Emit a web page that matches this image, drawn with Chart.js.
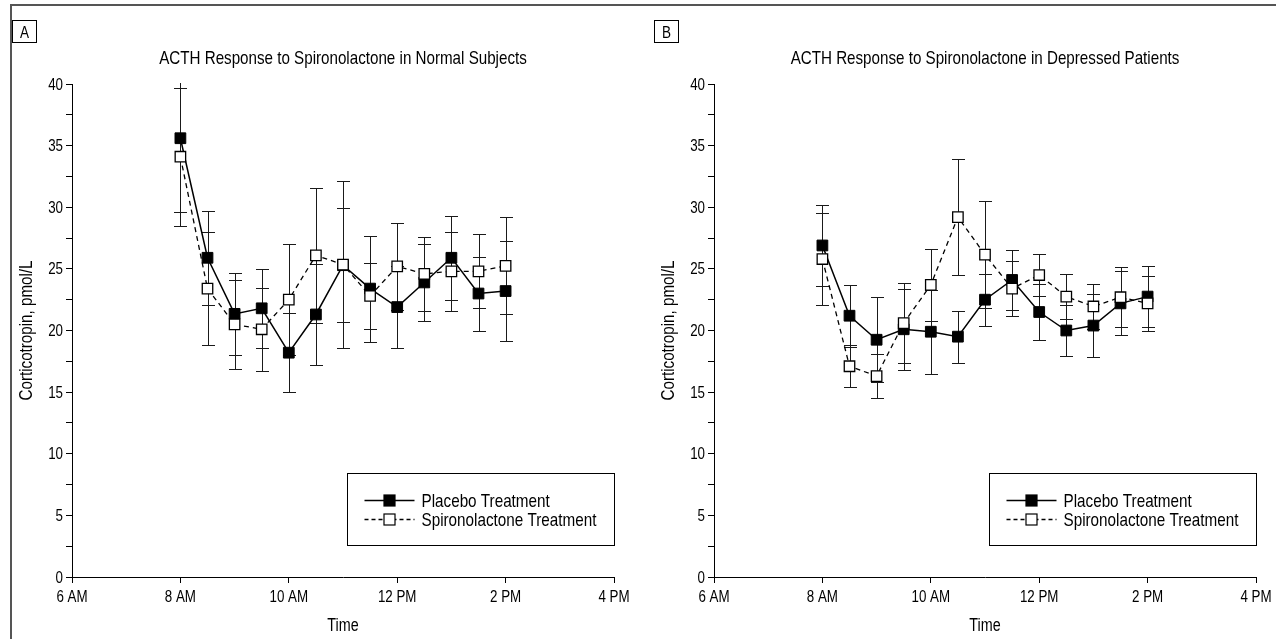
<!DOCTYPE html>
<html><head><meta charset="utf-8">
<script src="https://cdn.jsdelivr.net/npm/chart.js@4.4.0/dist/chart.umd.min.js"></script>
<style>
html,body{margin:0;padding:0;background:#fff;overflow:hidden}
#wrap{position:relative;width:1276px;height:639px;background:#fff}
canvas{position:absolute;top:0}
#cA{left:0}
#cB{left:638px}
</style></head><body>
<div id="wrap"><canvas id="cA" width="638" height="639"></canvas><canvas id="cB" width="638" height="639"></canvas></div>
<script>
// ---- data ----
const timeHours = [8, 8.5, 9, 9.5, 10, 10.5, 11, 11.5, 12, 12.5, 13, 13.5, 14];
const xTickValues = [6, 8, 10, 12, 14, 16];
const xTickLabels = ['6 AM', '8 AM', '10 AM', '12 PM', '2 PM', '4 PM'];
const seriesLabels = ['Placebo Treatment', 'Spironolactone Treatment'];

const normalPlacebo    = [35.6, 25.9, 21.35, 21.8, 18.2, 21.3, 25.3, 23.4, 21.9, 23.9, 25.9, 23.0, 23.2];
const normalPlaceboErr = [6.0, 3.8, 3.3, 3.2, 3.2, 4.1, 4.6, 4.3, 3.3, 3.1, 3.4, 3.0, 4.05];
const normalSpiro      = [34.1, 23.4, 20.5, 20.1, 22.5, 26.1, 25.35, 22.8, 25.2, 24.6, 24.8, 24.8, 25.25];
const normalSpiroErr   = [5.6, 4.6, 3.6, 3.35, 4.5, 5.5, 6.8, 2.7, 3.5, 3.0, 3.2, 3.0, 3.95];

const depPlacebo    = [26.9, 21.2, 19.25, 20.1, 19.9, 19.5, 22.5, 24.1, 21.5, 20.0, 20.4, 22.2, 22.75];
const depPlaceboErr = [3.3, 2.5, 3.45, 3.3, 3.4, 2.1, 2.1, 2.45, 2.25, 2.1, 2.55, 2.6, 2.5];
const depSpiro      = [25.8, 17.1, 16.3, 20.6, 23.7, 29.2, 26.15, 23.4, 24.5, 22.75, 21.95, 22.7, 22.2];
const depSpiroErr   = [3.75, 1.7, 1.8, 3.25, 2.9, 4.7, 4.35, 2.2, 1.7, 1.85, 1.85, 2.45, 2.25];

const titleA = 'ACTH Response to Spironolactone in Normal Subjects';
const titleB = 'ACTH Response to Spironolactone in Depressed Patients';
const yTitle = 'Corticotropin, pmol/L';
const xTitle = 'Time';

// ---- drawing ----
const FONT = "'Liberation Sans', Arial, Helvetica, sans-serif";
const NARROW = 0.82;
Chart.defaults.font.family = FONT;
Chart.defaults.color = '#000';

function narrowText(ctx, text, x, y, size, align, rotate) {
  ctx.save();
  ctx.translate(x, y);
  if (rotate) ctx.rotate(-Math.PI / 2);
  ctx.scale(NARROW, 1);
  ctx.font = size + 'px ' + FONT;
  ctx.textAlign = align;
  ctx.textBaseline = 'alphabetic';
  ctx.fillStyle = '#000';
  ctx.fillText(text, 0, 0);
  ctx.restore();
}

function xLabel(v) { const k = xTickValues.indexOf(v); return k >= 0 ? xTickLabels[k] : ''; }
function yLabel(v) { return v % 5 === 0 ? String(v) : ''; }

const errorBarPlugin = {
  id: 'errbars',
  beforeDatasetsDraw(chart) {
    const {ctx, chartArea: a, scales: {x, y}} = chart;
    ctx.save();
    ctx.beginPath();
    ctx.rect(a.left, a.top - 1, a.right - a.left, a.bottom - a.top + 1);
    ctx.clip();
    ctx.strokeStyle = '#1a1a1a';
    ctx.lineWidth = 1;
    chart.data.datasets.forEach(ds => {
      ds.data.forEach((p, i) => {
        const e = ds.err[i];
        const px = Math.round(x.getPixelForValue(p.x)) + 0.5;
        const yt = Math.round(y.getPixelForValue(p.y + e)) + 0.5;
        const yb = Math.round(y.getPixelForValue(p.y - e)) + 0.5;
        ctx.beginPath();
        ctx.moveTo(px, yt); ctx.lineTo(px, yb);
        ctx.moveTo(px - 6.5, yt); ctx.lineTo(px + 6.5, yt);
        ctx.moveTo(px - 6.5, yb); ctx.lineTo(px + 6.5, yb);
        ctx.stroke();
      });
    });
    ctx.restore();
  }
};

const decorPlugin = {
  id: 'decor',
  afterDraw(chart, args, opts) {
    const {ctx, chartArea: a, scales: {x, y}} = chart;
    ctx.save();
    // frame
    ctx.strokeStyle = '#555';
    ctx.lineWidth = 2;
    ctx.beginPath();
    if (opts.frameLeft) {
      ctx.moveTo(11, 639); ctx.lineTo(11, 5); ctx.lineTo(638, 5);
    } else {
      ctx.moveTo(0, 5); ctx.lineTo(638, 5);
    }
    ctx.stroke();
    // tick labels (positions from the library scales)
    x.ticks.forEach(t => {
      narrowText(ctx, xLabel(t.value), x.getPixelForValue(t.value), 602, 16.3, 'center');
    });
    y.ticks.forEach(t => {
      const lab = yLabel(t.value);
      if (lab) narrowText(ctx, lab, a.left - 9, y.getPixelForValue(t.value) + 5.6, 16.3, 'right');
    });
    // axis titles
    narrowText(ctx, xTitle, (a.left + a.right) / 2, 631, 17.5, 'center');
    narrowText(ctx, yTitle, a.left - 40, (a.top + a.bottom) / 2, 18.5, 'center', true);
    // panel letter box
    const bx = a.left - 60;
    ctx.lineWidth = 1;
    ctx.strokeStyle = '#000';
    ctx.fillStyle = '#fff';
    ctx.fillRect(bx + 0.5, 20.5, 24, 22);
    ctx.strokeRect(bx + 0.5, 20.5, 24, 22);
    narrowText(ctx, opts.letter, bx + 12.5, 37.5, 16.5, 'center');
    // title
    narrowText(ctx, opts.title, (a.left + a.right) / 2, 63.5, 18.5, 'center');
    // legend
    const lx = Math.round(a.left + 0.507 * (a.right - a.left)) + 0.5;
    const lr = Math.round(a.right) + 0.5;
    const ly = 473.5, lb = 545.5;
    ctx.fillStyle = '#fff';
    ctx.fillRect(lx, ly, lr - lx, lb - ly);
    ctx.strokeStyle = '#000';
    ctx.lineWidth = 1;
    ctx.strokeRect(lx, ly, lr - lx, lb - ly);
    const rows = [500, 519];
    chart.data.datasets.forEach((ds, i) => {
      const ry = rows[i] + 0.5;
      const x0 = lx + 17, x1 = lx + 67, cx = (x0 + x1) / 2;
      ctx.beginPath();
      ctx.strokeStyle = '#000';
      ctx.lineWidth = 1.3;
      ctx.setLineDash(i === 0 ? [] : [4, 3]);
      ctx.moveTo(x0, ry); ctx.lineTo(x1, ry);
      ctx.stroke();
      ctx.setLineDash([]);
      ctx.lineWidth = 1.2;
      ctx.fillStyle = i === 0 ? '#000' : '#fff';
      ctx.fillRect(cx - 5.5, ry - 5.5, 11, 11);
      ctx.strokeRect(cx - 5.5, ry - 5.5, 11, 11);
      narrowText(ctx, ds.label, lx + 74, ry + 6.4, 18.6, 'left');
    });
    ctx.restore();
  }
};

function makeChart(id, cfg) {
  const toPts = arr => timeHours.map((t, i) => ({x: t, y: arr[i]}));
  return new Chart(document.getElementById(id), {
    type: 'line',
    data: {
      datasets: [
        { label: seriesLabels[0], data: toPts(cfg.placebo), err: cfg.placeboErr,
          borderColor: '#000', borderWidth: 1.5, backgroundColor: '#000',
          pointStyle: 'rect', pointRadius: 7.6, pointBorderWidth: 1,
          pointBackgroundColor: '#000', pointBorderColor: '#000', order: 1, tension: 0 },
        { label: seriesLabels[1], data: toPts(cfg.spiro), err: cfg.spiroErr,
          borderColor: '#000', borderWidth: 1.3, borderDash: [5, 4], backgroundColor: '#fff',
          pointStyle: 'rect', pointRadius: 7.4, pointBorderWidth: 1.3,
          pointBackgroundColor: '#fff', pointBorderColor: '#000', order: 0, tension: 0 }
      ]
    },
    options: {
      responsive: false, animation: false, devicePixelRatio: 1,
      layout: {padding: {top: 84, left: cfg.padLeft, right: cfg.padRight, bottom: 0}},
      plugins: {
        legend: {display: false}, tooltip: {enabled: false},
        decor: {letter: cfg.letter, title: cfg.title, frameLeft: cfg.frameLeft}
      },
      scales: {
        x: {
          type: 'linear', min: 6, max: 16,
          afterBuildTicks: s => { s.ticks = xTickValues.map(v => ({value: v})); },
          afterFit: s => { s.height = 62; },
          ticks: {display: false, callback: v => xLabel(v), autoSkip: false},
          grid: {drawOnChartArea: false, drawTicks: true, tickLength: 6, color: '#000', tickColor: '#000'},
          border: {display: true, color: '#000', width: 1}
        },
        y: {
          min: 0, max: 40,
          afterFit: s => { s.width = 72; },
          ticks: {display: false, stepSize: 2.5, callback: v => yLabel(v), autoSkip: false},
          grid: {drawOnChartArea: false, drawTicks: true, tickLength: 6, color: '#000', tickColor: '#000'},
          border: {display: true, color: '#000', width: 1}
        }
      }
    },
    plugins: [errorBarPlugin, decorPlugin]
  });
}

makeChart('cA', {placebo: normalPlacebo, placeboErr: normalPlaceboErr, spiro: normalSpiro, spiroErr: normalSpiroErr,
  letter: 'A', title: titleA, padLeft: 0, padRight: 24, frameLeft: true});
makeChart('cB', {placebo: depPlacebo, placeboErr: depPlaceboErr, spiro: depSpiro, spiroErr: depSpiroErr,
  letter: 'B', title: titleB, padLeft: 4, padRight: 20, frameLeft: false});
</script>
</body></html>
